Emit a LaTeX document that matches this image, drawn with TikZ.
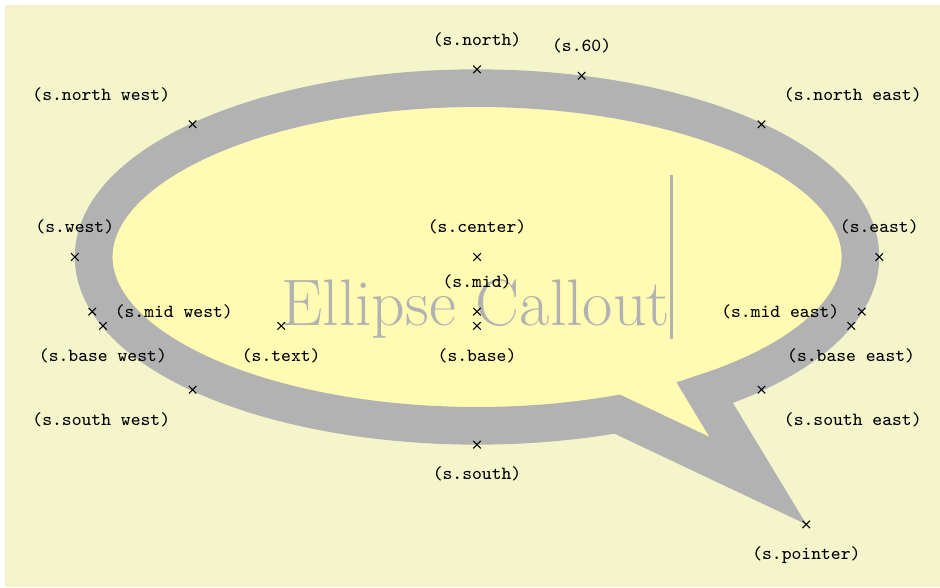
\documentclass[tikz,border=0pt]{standalone}
\usepackage{tikz}
\usetikzlibrary{shapes.callouts, backgrounds}
\definecolor{graphicbg}{rgb}{.96,.96,.8}

\begin{document}
\Huge
\begin{tikzpicture}[
  shapebox/.style={color=black!30, draw, fill=yellow!30, line width=.5cm, inner xsep=1cm, inner ysep=0.5cm},
  anchorlabel/.style={font=\scriptsize\ttfamily, text=black}
]
\useasboundingbox (-6.335,-4.383) rectangle (6.148,3.413);

% -------------------------
% CALLOUT SHAPE
% -------------------------
\node[name=s, shape=ellipse callout, shapebox, callout absolute pointer={(3.73,-2.97)}] at (0,0) {Ellipse Callout\vrule width 1pt height 2cm};

% -------------------------
% ANCHOR MARKS
% -------------------------
\foreach \anchor/\placement in
  {north west/above left, north/above, north east/above right,
   west/above, center/above, east/above,
   mid west/right, mid/above, mid east/left,
   base west/below, base/below, base east/below,
   south west/below left, south/below, south east/below right,
   text/below, 60/above, pointer/below}
  \draw[shift=(s.\anchor)] plot[mark=x] coordinates{(0,0)}
    node[\placement, anchorlabel] {(s.\anchor)};

% -------------------------
% BACKGROUND
% -------------------------
\begin{pgfonlayer}{background}
  \fill[white] (-6.335,-4.383) rectangle (6.148,3.413);
  \fill[graphicbg] (-6.269,-4.383) rectangle (6.148,3.347);
\end{pgfonlayer}

\end{tikzpicture}
\end{document}
